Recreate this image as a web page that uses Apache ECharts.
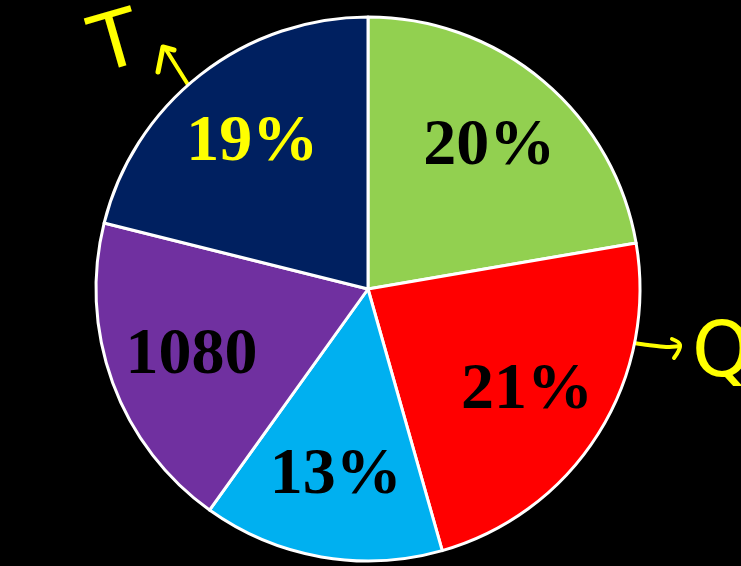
<!DOCTYPE html>
<html>
<head>
<meta charset="utf-8">
<script src="https://cdn.jsdelivr.net/npm/echarts@6/dist/echarts.min.js"></script>
<style>
html,body{margin:0;padding:0;background:#000;}
#c{width:741px;height:566px;}
</style>
</head>
<body>
<div id="c"></div>
<script>
const categories = ['A', 'B', 'C', 'D', 'E'];
const sliceValues = [22.3, 23.3, 14.3, 19.0, 21.1];
const sliceLabels = ['20%', '21%', '13%', '1080', '19%'];
const sliceColors = ['#92D050', '#FF0000', '#00B0F0', '#7030A0', '#002060'];
const labelColors = ['#000000', '#000000', '#000000', '#000000', '#FFFF00'];

const chart = echarts.init(document.getElementById('c'));
const CX = 368, CY = 289, R = 272, LABEL_R = 188;

const data = categories.map((c, i) => ({
  name: c,
  value: sliceValues[i],
  itemStyle: { color: sliceColors[i] },
  label: { color: labelColors[i] }
}));

chart.setOption({
  backgroundColor: '#000000',
  animation: false,
  series: [{
    type: 'pie',
    center: [CX, CY],
    radius: [0, R],
    startAngle: 90,
    clockwise: true,
    data: data,
    itemStyle: { borderColor: '#FFFFFF', borderWidth: 3 },
    label: {
      show: true,
      position: 'inside',
      formatter: p => sliceLabels[p.dataIndex],
      fontFamily: '"Liberation Serif", "Times New Roman", serif',
      fontWeight: 'bold',
      fontSize: 66
    },
    labelLine: { show: false },
    labelLayout: function (p) {
      const r = p.labelRect;
      const lx = r.x + r.width / 2, ly = r.y + r.height / 2;
      const dx = lx - CX, dy = ly - CY;
      const d = Math.sqrt(dx * dx + dy * dy) || 1;
      return { x: CX + dx / d * LABEL_R, y: CY + dy / d * LABEL_R + 2, align: 'center', verticalAlign: 'middle' };
    },
    emphasis: { disabled: true }
  }],
  graphic: [
    // handwritten "T" with arrow
    { type: 'text', x: 117, y: 47, rotation: 0.28,
      style: { text: 'T', fill: '#FFFF00', font: '78px "DejaVu Sans", sans-serif', align: 'center', verticalAlign: 'middle' } },
    { type: 'polyline', shape: { points: [[192, 91], [165, 48]] },
      style: { stroke: '#FFFF00', lineWidth: 4, lineCap: 'round' } },
    { type: 'polyline', shape: { points: [[158, 72], [163, 47], [174, 50]] },
      style: { stroke: '#FFFF00', lineWidth: 5, lineCap: 'round', lineJoin: 'round', fill: null } },
    // handwritten "Q" with arrow
    { type: 'polyline', shape: { points: [[634, 343], [648, 345], [666, 347], [680, 346]], smooth: 0.3 },
      style: { stroke: '#FFFF00', lineWidth: 4, lineCap: 'round', fill: null } },
    { type: 'polyline', shape: { points: [[672, 339], [680, 345], [674, 358]], smooth: 0.4 },
      style: { stroke: '#FFFF00', lineWidth: 4, lineCap: 'round', fill: null } },
    { type: 'text', left: 692, top: 318,
      style: { text: 'Q', fill: '#FFFF00', font: '76px "DejaVu Sans", sans-serif' } }
  ]
});
</script>
</body>
</html>
